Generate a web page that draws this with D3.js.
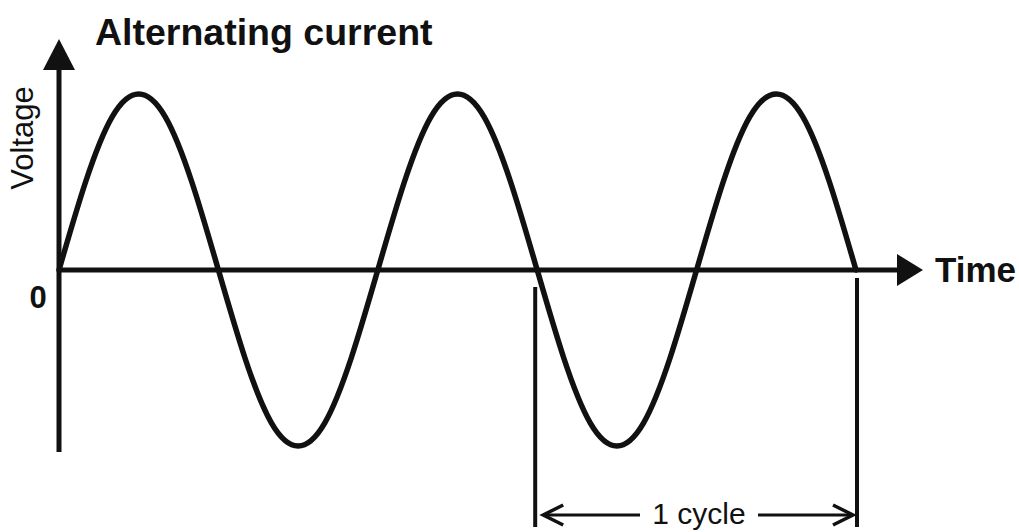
<!DOCTYPE html>
<html>
<head>
<meta charset="utf-8">
<script src="https://cdn.jsdelivr.net/npm/d3@7"></script>
<style>
  html, body { margin: 0; padding: 0; background: #fff; }
  svg { display: block; font-family: "Liberation Sans", Arial, Helvetica, sans-serif; }
</style>
</head>
<body>
<svg id="chart" width="1019" height="532"></svg>
<script>
// ---- data ----
const chartTitle = "Alternating current";
const yAxisLabel = "Voltage";
const xAxisLabel = "Time";
const yTickLabels = ["0"];
const cycleLabel = "1 cycle";
// phase steps of 30 degrees, 2.5 cycles
const phaseSteps = [0,1,2,3,4,5,6,7,8,9,10,11,12,13,14,15,16,17,18,19,20,21,22,23,24,25,26,27,28,29,30];
const voltage = [0, 0.5, 0.87, 1, 0.87, 0.5, 0, -0.5, -0.87, -1, -0.87, -0.5,
                 0, 0.5, 0.87, 1, 0.87, 0.5, 0, -0.5, -0.87, -1, -0.87, -0.5,
                 0, 0.5, 0.87, 1, 0.87, 0.5, 0];
const cycleStart = 18;  // phase step where the marked cycle starts
const cycleEnd = 30;    // phase step where the marked cycle ends

// ---- layout ----
const svg = d3.select("#chart");
const ink = "#111";
const x = d3.scaleLinear().domain([0, 30]).range([59, 856]);
const y = d3.scaleLinear().domain([-1, 1]).range([446, 94]);
const y0 = y(0);

// x axis line + arrow
svg.append("line").attr("x1", x(0)).attr("x2", 899).attr("y1", y0).attr("y2", y0)
  .attr("stroke", ink).attr("stroke-width", 5);
svg.append("path").attr("d", `M897,${y0-16}L923,${y0}L897,${y0+16}Z`).attr("fill", ink);

// y axis line + arrow
svg.append("line").attr("x1", x(0)).attr("x2", x(0)).attr("y1", 452).attr("y2", 68)
  .attr("stroke", ink).attr("stroke-width", 5);
svg.append("path").attr("d", `M${x(0)-16},70L${x(0)},39L${x(0)+16},70Z`).attr("fill", ink);

// wave
const line = d3.line()
  .x((d, i) => x(phaseSteps[i]))
  .y(d => y(d))
  .curve(d3.curveNatural);
svg.append("path").datum(voltage).attr("d", line)
  .attr("fill", "none").attr("stroke", ink).attr("stroke-width", 5.5)
  .attr("stroke-linecap", "round");

// cycle markers
svg.append("line").attr("x1", x(cycleStart) - 2).attr("x2", x(cycleStart) - 2)
  .attr("y1", 287).attr("y2", 527).attr("stroke", ink).attr("stroke-width", 4);
svg.append("line").attr("x1", x(cycleEnd) + 1).attr("x2", x(cycleEnd) + 1)
  .attr("y1", 278).attr("y2", 527).attr("stroke", ink).attr("stroke-width", 4);

const ay = 515;
const lx = x(cycleStart) + 6, rx = x(cycleEnd) - 3;
svg.append("line").attr("x1", lx).attr("x2", 640).attr("y1", ay).attr("y2", ay)
  .attr("stroke", ink).attr("stroke-width", 3);
svg.append("line").attr("x1", 758).attr("x2", rx).attr("y1", ay).attr("y2", ay)
  .attr("stroke", ink).attr("stroke-width", 3);
svg.append("path").attr("d", `M${lx+20},${ay-10}L${lx},${ay}L${lx+20},${ay+10}`)
  .attr("fill", "none").attr("stroke", ink).attr("stroke-width", 3.5);
svg.append("path").attr("d", `M${rx-20},${ay-10}L${rx},${ay}L${rx-20},${ay+10}`)
  .attr("fill", "none").attr("stroke", ink).attr("stroke-width", 3.5);
svg.append("text").attr("x", 699).attr("y", 524).attr("text-anchor", "middle")
  .attr("font-size", 30).attr("fill", ink).text(cycleLabel);

// texts
svg.append("text").attr("x", 95).attr("y", 45).attr("font-size", 37.5)
  .attr("font-weight", "bold").attr("fill", ink).text(chartTitle);
svg.append("text").attr("transform", "translate(33,138) rotate(-90)")
  .attr("text-anchor", "middle").attr("font-size", 31).attr("fill", ink).text(yAxisLabel);
svg.append("text").attr("x", 38).attr("y", 308).attr("text-anchor", "middle")
  .attr("font-size", 31).attr("font-weight", "bold").attr("fill", ink).text(yTickLabels[0]);
svg.append("text").attr("x", 935).attr("y", 282).attr("font-size", 35)
  .attr("font-weight", "bold").attr("fill", ink).text(xAxisLabel);
</script>
</body>
</html>
